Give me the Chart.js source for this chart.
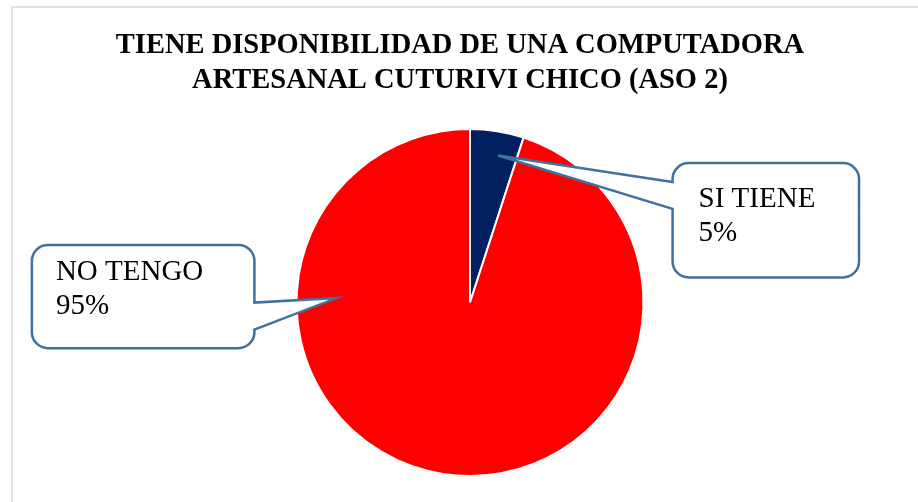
<!DOCTYPE html>
<html>
<head>
<meta charset="utf-8">
<script src="https://cdn.jsdelivr.net/npm/chart.js@4/dist/chart.umd.min.js"></script>
<style>
  html, body { margin: 0; padding: 0; background: #ffffff; }
  #wrap { width: 918px; height: 502px; }
</style>
</head>
<body>
<div id="wrap"><canvas id="c" width="918" height="502"></canvas></div>
<script>
const titleLines = ['TIENE DISPONIBILIDAD DE UNA COMPUTADORA', 'ARTESANAL CUTURIVI CHICO (ASO 2)'];
const categories = ['SI TIENE', 'NO TENGO'];
const values = [5, 95];
const sliceColors = ['#002060', '#FF0000'];

// callout placement relative to pie center (in units of radius)
const calloutLayout = [
  { box: [1.168, -0.804, 1.075, 0.659], side: 'right', wy: [-0.695, -0.54], tip: [0.162, -0.848] },
  { box: [-2.526, -0.332, 1.283, 0.595], side: 'left', wy: [0.0, 0.156], tip: [-0.769, -0.026] }
];

const frameBorder = {
  id: 'frameBorder',
  beforeDraw(chart) {
    const ctx = chart.ctx;
    ctx.save();
    ctx.strokeStyle = '#D9D9D9';
    ctx.lineWidth = 1.5;
    ctx.strokeRect(12, 7, 1000, 600);
    ctx.restore();
  }
};

const titleCenter = {
  id: 'titleCenter',
  afterLayout(chart) {
    if (chart.titleBlock) {
      chart.titleBlock.left = 0;
      chart.titleBlock.right = 920;
    }
  }
};

function calloutPath(ctx, x, y, w, h, r, side, y1, y2, tx, ty) {
  ctx.beginPath();
  ctx.moveTo(x + r, y);
  ctx.lineTo(x + w - r, y);
  ctx.arcTo(x + w, y, x + w, y + r, r);
  if (side === 'left') {
    ctx.lineTo(x + w, y1);
    ctx.lineTo(tx, ty);
    ctx.lineTo(x + w, y2);
  }
  ctx.lineTo(x + w, y + h - r);
  ctx.arcTo(x + w, y + h, x + w - r, y + h, r);
  ctx.lineTo(x + r, y + h);
  ctx.arcTo(x, y + h, x, y + h - r, r);
  if (side === 'right') {
    ctx.lineTo(x, y2);
    ctx.lineTo(tx, ty);
    ctx.lineTo(x, y1);
  }
  ctx.lineTo(x, y + r);
  ctx.arcTo(x, y, x + r, y, r);
  ctx.closePath();
}

const callouts = {
  id: 'callouts',
  afterDatasetsDraw(chart) {
    const ctx = chart.ctx;
    const meta = chart.getDatasetMeta(0);
    const total = values.reduce((a, b) => a + b, 0);
    meta.data.forEach((arc, i) => {
      const cx = arc.x, cy = arc.y, R = arc.outerRadius;
      const L = calloutLayout[i];
      const bx = cx + L.box[0] * R, by = cy + L.box[1] * R;
      const bw = L.box[2] * R, bh = L.box[3] * R;
      const y1 = cy + L.wy[0] * R, y2 = cy + L.wy[1] * R;
      const tx = cx + L.tip[0] * R, ty = cy + L.tip[1] * R;
      ctx.save();
      calloutPath(ctx, bx, by, bw, bh, 16, L.side, y1, y2, tx, ty);
      ctx.fillStyle = '#FFFFFF';
      ctx.fill();
      ctx.strokeStyle = '#41719C';
      ctx.lineWidth = 2.5;
      ctx.lineJoin = 'miter';
      ctx.stroke();
      ctx.fillStyle = '#000000';
      ctx.font = '29px "Liberation Serif", "Times New Roman", serif';
      ctx.textBaseline = 'alphabetic';
      ctx.textAlign = 'left';
      const pct = Math.round(values[i] / total * 100) + '%';
      const pad = i === 0 ? 26 : 24;
      const firstBase = i === 0 ? 44 : 35;
      ctx.fillText(categories[i], bx + pad, by + firstBase);
      ctx.fillText(pct, bx + pad, by + firstBase + 34);
      ctx.restore();
    });
  }
};

new Chart(document.getElementById('c'), {
  type: 'pie',
  data: {
    labels: categories,
    datasets: [{
      data: values,
      backgroundColor: sliceColors,
      borderColor: '#FFFFFF',
      borderWidth: 2
    }]
  },
  options: {
    responsive: false,
    animation: false,
    rotation: 0,
    layout: { padding: { top: 10, left: 22, right: 0, bottom: 25 } },
    plugins: {
      legend: { display: false },
      tooltip: { enabled: false },
      title: {
        display: true,
        text: titleLines,
        color: '#000000',
        font: { family: '"Liberation Serif", "Times New Roman", serif', size: 28.5, weight: 'bold', lineHeight: 1.23 },
        padding: { top: 18, bottom: 30 }
      }
    }
  },
  plugins: [frameBorder, titleCenter, callouts]
});
</script>
</body>
</html>
